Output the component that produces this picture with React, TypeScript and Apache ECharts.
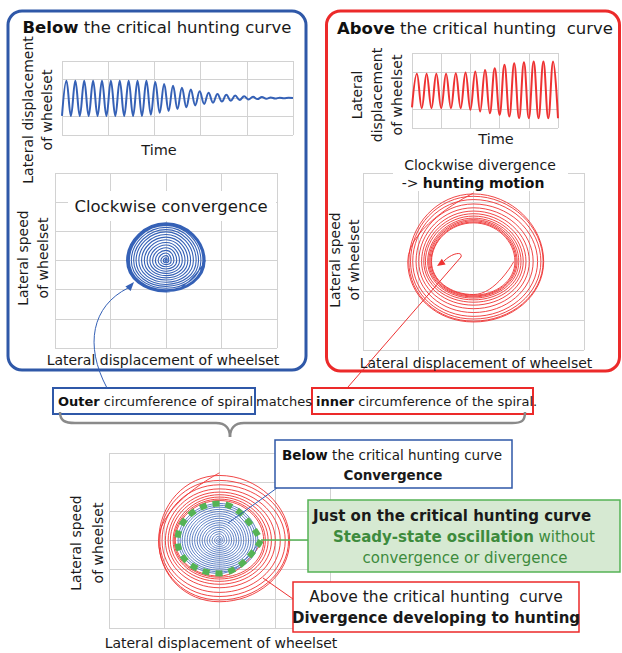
import React, { useEffect, useRef } from "react";
import * as echarts from "echarts";

const FONT = "'DejaVu Sans', 'Noto Sans', sans-serif";

// ---- Time histories: alternating trough / peak values (grid units, 1 unit = one grid row)
const belowTimeExtremes = [
  -0.97, 0.93, -0.97, 0.93, -0.97, 0.93, -0.97, 0.93, -0.97, 0.93,
  -0.97, 0.93, -0.97, 0.93, -0.97, 0.93, -0.97, 0.93, -0.97, 0.93,
  -0.9, 0.86, -0.8, 0.76, -0.7, 0.66, -0.6, 0.56, -0.5, 0.46,
  -0.4, 0.36, -0.32, 0.29, -0.25, 0.22, -0.19, 0.17, -0.15, 0.13,
  -0.11, 0.1, -0.08, 0.07, -0.06, 0.05, -0.04, 0.03, -0.03, 0.02,
  -0.02, 0.01, 0,
];
const aboveTimeExtremes = [
  -0.9, 0.89, -0.94, 0.89, -0.94, 0.89, -0.94, 0.89, -0.94, 0.92,
  -0.94, 0.96, -1.03, 1.01, -1.12, 1.1, -1.21, 1.19, -1.3, 1.37,
  -1.39, 1.46, -1.48, 1.51, -1.48, 1.55, -1.48, 1.55, -1.48, 1.55, -1.48,
];

// ---- Phase planes: each turn = [right, bottom, left, top] extents (clockwise)
const blueTopShape = [0.715, -1.08, -0.71, 1.29];
const blueTopScale = [1.0, 0.985, 0.97, 0.95, 0.93, 0.88, 0.82, 0.76, 0.69, 0.62, 0.55, 0.48, 0.41, 0.34, 0.27, 0.2, 0.13, 0.07, 0.03];

const redRightTurns = [
  [0.73, -1.12, -0.76, 1.31],
  [0.75, -1.14, -0.77, 1.34],
  [0.77, -1.17, -0.79, 1.38],
  [0.79, -1.2, -0.81, 1.42],
  [0.82, -1.24, -0.83, 1.47],
  [0.86, -1.3, -0.87, 1.54],
  [0.9, -1.38, -0.9, 1.62],
  [0.95, -1.48, -0.94, 1.71],
  [1.01, -1.6, -0.99, 1.82],
  [1.08, -1.73, -1.04, 1.95],
  [1.16, -1.86, -1.1, 2.1],
  [1.22, -1.95, -1.14, 2.21],
  [1.26, -2.02, -1.17, 2.29],
  [1.27, -2.05, -1.19, 2.32],
];

const redBottomTurns = [
  [0.78, -1.22, -0.8, 1.37],
  [0.8, -1.26, -0.82, 1.42],
  [0.83, -1.32, -0.84, 1.49],
  [0.88, -1.4, -0.89, 1.57],
  [0.94, -1.5, -0.93, 1.66],
  [1.01, -1.62, -0.98, 1.77],
  [1.1, -1.78, -1.04, 1.91],
  [1.19, -1.92, -1.08, 2.06],
  [1.25, -2.04, -1.1, 2.23],
  [1.27, -2.1, -1.1, 2.32],
];

const blueBottomShape = [0.73, -1.13, -0.75, 1.27];
const blueBottomScale = [1.0, 0.95, 0.9, 0.84, 0.78, 0.72, 0.66, 0.6, 0.54, 0.48, 0.42, 0.36, 0.3, 0.24, 0.18, 0.12, 0.07, 0.03];

const greenLimitCycle = [0.75, -1.13, -0.76, 1.27];

// ---- colours
const BLUE = "#2f58a8";
const BLUE_LINE = "#3561b6";
const RED = "#ec2a2a";
const RED_LINE = "#ee3232";
const GREEN = "#55b355";
const GREEN_TEXT = "#3d8b3d";
const GRID = "#d2d2d2";

const timeData = (ext: number[]) => ext.map((v, i) => [i * 0.5, v]);
const turnsToPoints = (turns: number[][]) => {
  const out: number[][] = [];
  turns.forEach((t) => t.forEach((v, q) => out.push(q % 2 === 0 ? [v, 0] : [0, v])));
  return out;
};
const scaledTurns = (shape: number[], scale: number[]) => scale.map((s) => shape.map((v) => v * s));

const axisBase = {
  type: "value" as const,
  axisLine: { show: false },
  axisTick: { show: false },
  axisLabel: { show: false },
  splitLine: { show: true, lineStyle: { color: GRID, width: 1 } },
};
const mkAxis = (gridIndex: number, min: number, max: number, interval: number) => ({
  ...axisBase,
  gridIndex,
  min,
  max,
  interval,
});

const T = (
  x: number,
  y: number,
  text: string,
  fontSize: number,
  extra: any = {},
  el: any = {}
) => ({
  type: "text",
  x,
  y,
  z: 30,
  ...el,
  style: {
    text,
    fontSize,
    fontFamily: FONT,
    fill: "#1a1a1a",
    align: "center",
    verticalAlign: "middle",
    ...extra,
  },
});

const boldRich = (size: number, fill = "#111") => ({
  b: { fontWeight: "bold", fontSize: size, fontFamily: FONT, fill },
});

const VT = (x: number, y: number, text: string, size = 14, lh = 19) =>
  T(x, y, text, size, { lineHeight: lh }, { rotation: Math.PI / 2 });

const rect = (x: number, y: number, w: number, h: number, style: any, r = 0, z = 20) => ({
  type: "rect",
  z,
  shape: { x, y, width: w, height: h, r },
  style,
});
const line = (x1: number, y1: number, x2: number, y2: number, stroke: string, lineWidth = 1, z = 25) => ({
  type: "line",
  z,
  shape: { x1, y1, x2, y2 },
  style: { stroke, lineWidth },
});
const bez = (p: number[], stroke: string, lineWidth = 1, z = 25) => ({
  type: "bezierCurve",
  z,
  shape: { x1: p[0], y1: p[1], cpx1: p[2], cpy1: p[3], cpx2: p[4], cpy2: p[5], x2: p[6], y2: p[7] },
  style: { stroke, lineWidth, fill: "none" },
});
const tri = (pts: number[][], fill: string) => ({
  type: "polygon",
  z: 26,
  shape: { points: pts },
  style: { fill },
});

const BRACE = "#8a8a8a";

const graphics: any[] = [
  // outer panels
  rect(8, 11, 298, 359, { fill: "none", stroke: BLUE, lineWidth: 3 }, 14),
  rect(326.5, 11, 293, 360, { fill: "none", stroke: RED, lineWidth: 3 }, 14),
  // titles
  T(157, 27, "{b|Below} the critical hunting curve", 16.5, { rich: boldRich(16.5) }),
  T(475, 28, "{b|Above} the critical hunting  curve", 16.5, { rich: boldRich(16.5) }),
  // top-left labels
  VT(37, 110, "Lateral displacement\nof wheelset", 14, 19),
  T(159, 150, "Time", 14.5),
  rect(68, 191, 208, 30, { fill: "#fff" }, 0, 5),
  T(171, 206, "Clockwise convergence", 16.5),
  VT(33, 258, "Lateral speed\nof wheelset", 14, 20),
  T(163, 360, "Lateral displacement of wheelset", 14),
  // top-right labels
  VT(377, 95, "Lateral\ndisplacement\nof wheelset", 14, 20),
  T(496, 139, "Time", 14.5),
  rect(393, 152, 175, 22, { fill: "#fff" }, 0, 5),
  rect(405, 174, 136, 17, { fill: "#fff" }, 0, 5),
  T(480, 165, "Clockwise divergence", 14),
  T(473, 183, "-> {b|hunting motion}", 14, { rich: boldRich(14) }),
  VT(344, 260, "Lateral speed\nof wheelset", 14, 19),
  T(476, 363, "Lateral displacement of wheelset", 14),
  // blue arrow
  bez([107, 388, 84, 345, 92, 306, 128, 288], BLUE_LINE, 1),
  tri([[134, 282], [130.6, 291], [125.4, 286.4]], BLUE_LINE),
  // red arrow with hook
  line(348, 387, 461, 257, RED_LINE, 1),
  bez([461, 257, 463, 251, 452, 253, 444, 261], RED_LINE, 1),
  tri([[437, 266], [445.6, 264.6], [441.8, 258.8]], RED_LINE),
  // middle sentence
  rect(53, 388, 202, 26, { fill: "#fff", stroke: BLUE, lineWidth: 2 }, 0, 20),
  rect(312, 388, 221, 26, { fill: "#fff", stroke: RED, lineWidth: 2 }, 0, 20),
  T(58, 401, "{b|Outer} circumference of spiral", 13, { align: "left", rich: boldRich(13) }),
  T(284, 401, "matches", 13),
  T(316, 401, "{b|inner} circumference of the spiral.", 13, { align: "left", rich: boldRich(13) }),
  // brace
  bez([60, 412, 60, 421, 65, 423, 75, 423], BRACE, 2.5),
  line(75, 423, 216, 423, BRACE, 2.5),
  bez([216, 423, 226, 423, 230, 429, 230, 437], BRACE, 2.5),
  bez([230, 437, 230, 429, 234, 423, 244, 423], BRACE, 2.5),
  line(244, 423, 512, 423, BRACE, 2.5),
  bez([512, 423, 522, 423, 525, 421, 525, 412], BRACE, 2.5),
  // bottom labels
  VT(87, 543, "Lateral speed\nof wheelset", 14, 22),
  T(221, 643, "Lateral displacement of wheelset", 14),
  // connectors
  line(277, 488, 228, 523, BLUE_LINE, 1),
  line(261, 540, 308, 540, GREEN, 1.5),
  line(293, 599, 263, 578, RED_LINE, 1),
  // callout boxes
  rect(275, 440, 237, 48, { fill: "#fff", stroke: BLUE, lineWidth: 1.5 }, 0, 20),
  T(392, 455, "{b|Below} the critical hunting curve", 13.5, { rich: boldRich(13.5) }),
  T(393, 475, "Convergence", 13.5, { fontWeight: "bold" }),
  rect(308, 500, 312, 72, { fill: "#d6e9d2", stroke: GREEN, lineWidth: 1.5 }, 0, 20),
  T(313, 516, "Just on the critical hunting curve", 15, { align: "left", fontWeight: "bold" }),
  T(464, 537, "{b|Steady-state oscillation} without", 15, {
    fill: GREEN_TEXT,
    rich: boldRich(15, GREEN_TEXT),
  }),
  T(465, 558, "convergence or divergence", 15, { fill: GREEN_TEXT }),
  rect(293, 582, 286, 50, { fill: "#fff", stroke: RED, lineWidth: 1.5 }, 0, 20),
  T(436, 597, "Above the critical hunting  curve", 15.5),
  T(436, 618, "Divergence developing to hunting", 15, { fontWeight: "bold" }),
];

const lineSeries = (xi: number, data: number[][], color: string, width: number, smooth: number, extra: any = {}) => ({
  type: "line",
  xAxisIndex: xi,
  yAxisIndex: xi,
  data,
  smooth,
  symbol: "none",
  showSymbol: false,
  silent: true,
  lineStyle: { color, width, ...extra },
  z: 3,
});

const blueTopPts = [...turnsToPoints(scaledTurns(blueTopShape, blueTopScale)), [0, 0]];
const blueBottomPts = [...turnsToPoints(scaledTurns(blueBottomShape, blueBottomScale)), [0, 0]];
const greenPts = turnsToPoints([greenLimitCycle]);
greenPts.push(greenPts[0]);

const option: any = {
  animation: false,
  backgroundColor: "#fff",
  grid: [
    { left: 62, top: 61, width: 231, height: 74 },
    { left: 412, top: 53, width: 146, height: 75 },
    { left: 55, top: 173, width: 222, height: 175 },
    { left: 363, top: 173, width: 221, height: 177 },
    { left: 109, top: 453, width: 221, height: 175 },
  ],
  xAxis: [
    mkAxis(0, 0, 26, 5.2),
    mkAxis(1, 0, 15, 3),
    mkAxis(2, -2, 2, 1),
    mkAxis(3, -2, 2, 1),
    mkAxis(4, -2, 2, 1),
  ],
  yAxis: [
    mkAxis(0, -2, 2, 1),
    mkAxis(1, -2, 2, 1),
    mkAxis(2, -3, 3, 1),
    mkAxis(3, -3, 3, 1),
    mkAxis(4, -3, 3, 1),
  ],
  series: [
    lineSeries(0, timeData(belowTimeExtremes), BLUE_LINE, 2, 0.4),
    lineSeries(1, timeData(aboveTimeExtremes), RED_LINE, 2, 0.4),
    lineSeries(2, blueTopPts, BLUE_LINE, 1.1, 0.55),
    lineSeries(3, turnsToPoints(redRightTurns), RED_LINE, 0.9, 0.55),
    lineSeries(4, turnsToPoints(redBottomTurns), RED_LINE, 0.9, 0.55),
    lineSeries(4, blueBottomPts, BLUE_LINE, 0.8, 0.55),
    lineSeries(4, greenPts, GREEN, 6, 0.55, { type: [7, 6] }),
  ],
  graphic: graphics,
};

export default function App() {
  const ref = useRef<HTMLDivElement>(null);
  useEffect(() => {
    document.body.style.margin = "0";
    const chart = echarts.init(ref.current!, null, { renderer: "svg" });
    chart.setOption(option);
    return () => chart.dispose();
  }, []);
  return <div ref={ref} style={{ width: 622, height: 653, background: "#fff" }} />;
}
